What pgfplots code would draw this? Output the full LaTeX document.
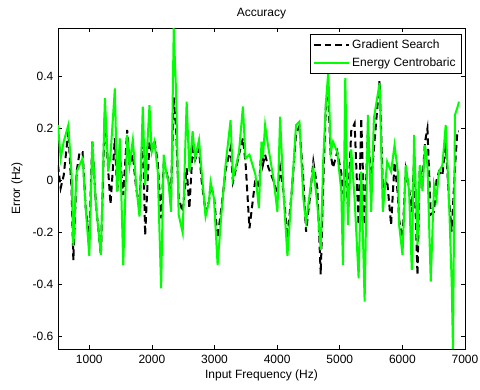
\documentclass[border=0pt]{standalone}
\usepackage{fontspec}
\setmainfont{Liberation Sans}
\usepackage{pgfplots}
\usepackage{pgfplotstable}
\pgfplotsset{compat=1.18}
\newcommand{\fsz}{\fontsize{9}{10.8}\selectfont}
\pgfplotstableread{
x ec gs
500 0.214 0.06
543 0.086 -0.028
591 0.15 0.02
665 0.214 0.19
718 0.02 -0.04
745 -0.25 -0.305
798 0.035 0.035
845 0.06 0.11
893 0.086 0.11
941 -0.1 -0.1
1000 -0.29 -0.22
1048 0.15 0.15
1105 -0.093 -0.09
1185 -0.285 -0.285
1249 0.317 0.265
1303 0.035 0.035
1339 0.1 -0.09
1408 0.355 0.163
1446 -0.042 -0.04
1487 0.163 0.1
1542 -0.324 -0.055
1605 0.176 0.195
1642 0.06 0.06
1695 0.157 0.1
1749 -0.017 -0.03
1801 -0.138 -0.1
1854 0.285 0.2
1892 -0.017 -0.21
1961 0.29 0.15
1997 0.11 0.11
2040 0.15 0.157
2093 0.035 0.07
2147 -0.414 -0.145
2188 0.1 0.06
2227 0.035 0.04
2263 -0.003 0.0
2306 -0.12 -0.05
2348 0.586 0.32
2386 0.34 0.2
2427 -0.13 -0.067
2491 -0.2 -0.12
2555 0.304 0.048
2598 0.035 -0.106
2650 0.19 0.12
2689 0.086 0.08
2752 0.157 0.12
2794 0.035 0.0
2857 -0.138 -0.12
2912 -0.08 -0.08
2937 -0.004 -0.017
2991 -0.068 -0.06
3049 -0.324 -0.22
3112 -0.12 -0.1
3176 0.06 0.04
3256 0.233 0.125
3294 0.009 -0.004
3346 0.06 0.05
3390 0.11 0.1
3453 0.285 0.163
3495 0.086 0.07
3558 0.1 -0.183
3654 0.022 0.01
3708 -0.106 -0.03
3750 0.15 0.12
3772 0.086 0.06
3808 0.214 0.1
3861 0.125 0.05
3941 0.009 0.0
4004 -0.12 -0.05
4047 0.246 0.05
4100 -0.042 -0.04
4164 -0.29 -0.22
4234 -0.04 -0.04
4302 0.214 0.18
4355 0.227 0.21
4419 -0.07 0.0
4462 -0.158 -0.196
4525 -0.04 -0.06
4578 0.048 0.073
4642 -0.093 -0.03
4696 -0.267 -0.36
4737 0.086 0.0
4780 0.304 0.3
4817 0.42 0.32
4855 0.11 0.1
4892 0.15 0.05
4960 0.11 0.11
5024 -0.04 0.03
5051 -0.324 -0.05
5088 0.394 0.05
5131 -0.17 -0.1
5183 0.12 0.19
5237 -0.07 0.22
5301 -0.375 -0.17
5343 0.035 0.24
5397 -0.465 -0.17
5449 0.253 0.19
5502 -0.12 0.0
5545 0.24 0.12
5636 0.375 0.387
5688 -0.12 -0.03
5757 0.073 0.0
5820 0.035 -0.17
5875 0.137 0.07
5927 0.035 -0.05
5948 -0.17 -0.15
6002 -0.286 -0.22
6055 0.06 0.04
6107 -0.04 -0.03
6150 -0.343 -0.12
6187 0.176 0.08
6241 -0.247 -0.363
6278 0.06 0.05
6321 -0.04 0.0
6362 0.137 0.15
6400 0.06 0.2
6453 -0.388 -0.13
6505 -0.017 -0.12
6544 -0.068 0.0
6585 0.035 0.035
6639 0.06 0.02
6692 0.214 0.15
6744 -0.07 -0.07
6787 -0.388 -0.196
6808 -0.647 -0.1
6840 0.253 0.05
6878 0.28 0.19
6904 0.304 0.19
}\datatable
\begin{document}
\begin{tikzpicture}
\path[use as bounding box] (-43.5pt,-30.75pt) rectangle (316.5pt,261.75pt);
\begin{axis}[
  at={(0,0)}, anchor=south west,
  scale only axis, width=305.25pt, height=240.75pt,
  xmin=500, xmax=7000, ymin=-0.647, ymax=0.587,
  xtick={1000,2000,3000,4000,5000,6000,7000},
  xticklabels={1000,2000,3000,4000,5000,6000,7000},
  ytick={-0.6,-0.4,-0.2,0,0.2,0.4},
  yticklabels={-0.6,-0.4,-0.2,0,0.2,0.4},
  tick align=inside, major tick length=3pt,
  tick style={black, line width=0.5pt},
  axis line style={line width=0.6pt},
  tick label style={font=\fsz},
  xticklabel style={anchor=center, yshift=-7.5pt},
  every axis title shift=0pt,
  title={Accuracy},
  title style={font=\fsz, at={(axis description cs:0.5,1.0457)}, anchor=center},
  xlabel={Input Frequency (Hz)},
  xlabel style={font=\fsz, at={(axis description cs:0.5,-0.081)}, anchor=center},
  ylabel={Error (Hz)},
  ylabel style={font=\fsz, at={(axis description cs:-0.1007,0.5)}, anchor=center},
  legend style={font=\fsz, at={(rel axis cs:0.991,0.981)}, anchor=north east,
    draw=black, line width=0.6pt, fill=white, row sep=1.5pt, inner sep=2pt},
  legend cell align=left,
  legend image code/.code={\draw[#1] (0pt,0pt) -- (26pt,0pt);},
]
\addplot[black, line width=1.5pt, dash pattern=on 5pt off 3pt] table[x=x, y=gs] {\datatable};
\addlegendentry{Gradient Search}
\addplot[color={rgb,1:red,0;green,1;blue,0}, line width=1.5pt] table[x=x, y=ec] {\datatable};
\addlegendentry{Energy Centrobaric}
\end{axis}
\end{tikzpicture}
\end{document}
